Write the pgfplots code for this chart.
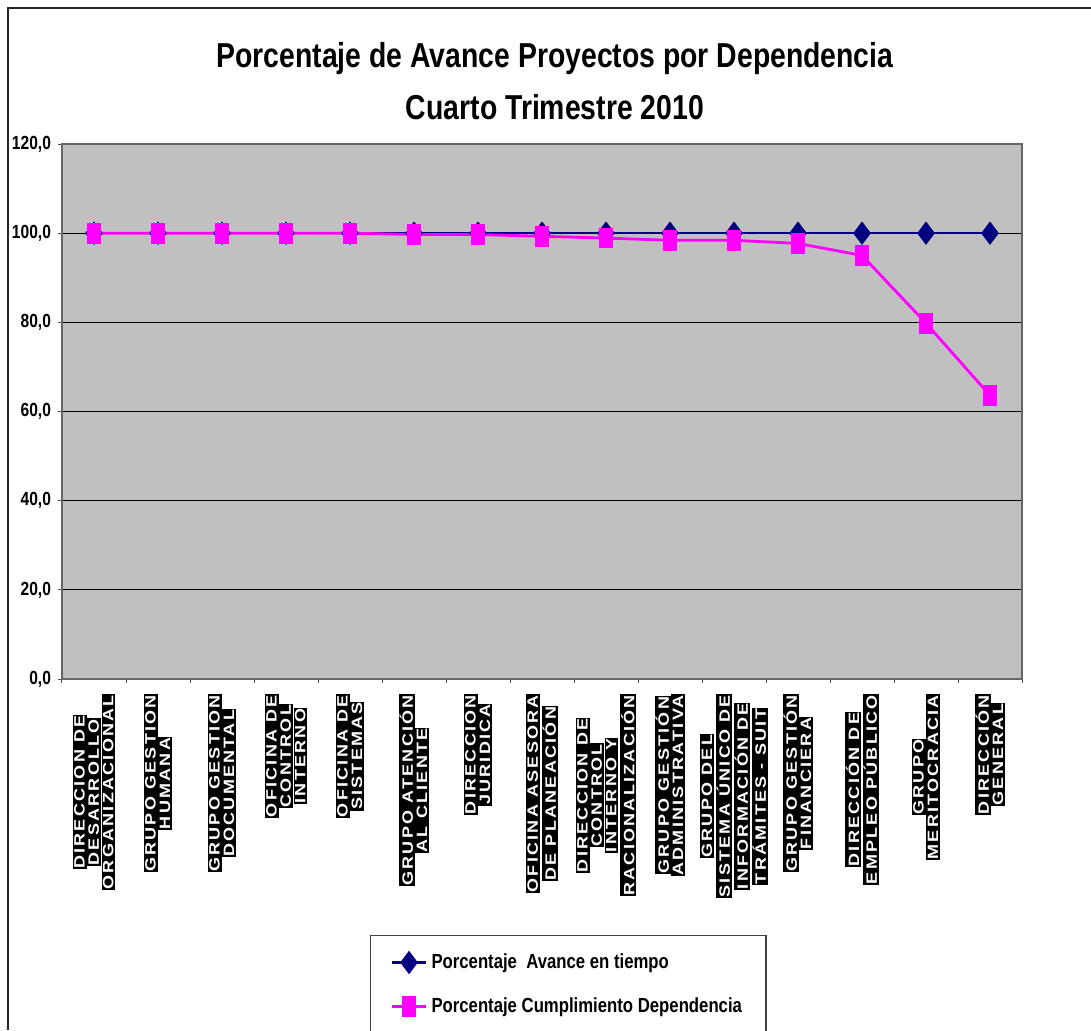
\documentclass[border=0pt]{standalone}
\usepackage{pgfplots}
\pgfplotsset{compat=1.18}
\usepackage{fontspec}
\setmainfont{Liberation Sans}
\newfontfamily\narrowfont{Liberation Sans}[FakeStretch=0.82]
\newfontfamily\spacedfont{Liberation Sans}[FakeStretch=1.2, LetterSpace=15]

\definecolor{plotgray}{HTML}{C0C0C0}
\definecolor{navyblue}{HTML}{000080}
\definecolor{pinkish}{HTML}{FF00FF}

% one black box per line of a category label
\setlength\fboxsep{0.3pt}
\newcommand\tl[1]{\colorbox{black}{\rule[-0.7pt]{0pt}{6.3pt}\textcolor{white}{#1}}}

\begin{document}
\begin{tikzpicture}
\useasboundingbox (0,0) rectangle (545.5pt,-515pt);
\draw[line width=0.9pt, black!85] (4pt,-515pt) -- (4pt,-4pt) -- (545.5pt,-4pt);
\node[align=center, font=\narrowfont\bfseries\fontsize{17.3}{26}\selectfont] at (277.5pt,-40.5pt)
  {Porcentaje de Avance Proyectos por Dependencia\\Cuarto Trimestre 2010};

\begin{axis}[
    at={(31pt,-72pt)}, anchor=north west,
    scale only axis,
    width=480pt, height=267.5pt,
    xmin=-0.5, xmax=14.5,
    ymin=0, ymax=120,
    ytick={0,20,...,120},
    xtick={0,...,14},
    minor xtick={-0.5,0.5,...,14.5},
    major x tick style={draw=none},
    xtick pos=bottom, ytick pos=left,
    tick align=outside,
    major tick length=2pt, minor tick length=2pt,
    tick style={black!70, line width=0.5pt},
    axis background/.style={fill=plotgray},
    axis line style={black!60, line width=0.6pt},
    ymajorgrids=true,
    major grid style={black, line width=0.5pt},
    /pgf/number format/assume math mode=true,
    yticklabel style={font=\narrowfont\bfseries\fontsize{9.5}{11}\selectfont,
        /pgf/number format/.cd, fixed, fixed zerofill, precision=1, use comma},
    xticklabel style={rotate=90, anchor=east, align=center, inner sep=0pt,
        font=\spacedfont\bfseries\fontsize{7.5}{7.2}\selectfont},
    xticklabel shift=5.5pt,
    xticklabels={
      {\tl{DIRECCION DE}\\\tl{DESARROLLO}\\\tl{ORGANIZACIONAL}},
      {\tl{GRUPO GESTION}\\\tl{HUMANA}},
      {\tl{GRUPO GESTION}\\\tl{DOCUMENTAL}},
      {\tl{OFICINA DE}\\\tl{CONTROL}\\\tl{INTERNO}},
      {\tl{OFICINA DE}\\\tl{SISTEMAS}},
      {\tl{GRUPO ATENCIÓN}\\\tl{AL CLIENTE}},
      {\tl{DIRECCION}\\\tl{JURIDICA}},
      {\tl{OFICINA ASESORA}\\\tl{DE PLANEACIÓN}},
      {\tl{DIRECCION DE}\\\tl{CONTROL}\\\tl{INTERNO Y}\\\tl{RACIONALIZACIÓN}},
      {\tl{GRUPO GESTIÓN}\\\tl{ADMINISTRATIVA}},
      {\tl{GRUPO DEL}\\\tl{SISTEMA ÚNICO DE}\\\tl{INFORMACIÓN DE}\\\tl{TRÁMITES - SUIT}},
      {\tl{GRUPO GESTIÓN}\\\tl{FINANCIERA}},
      {\tl{DIRECCIÓN DE}\\\tl{EMPLEO PÚBLICO}},
      {\tl{GRUPO}\\\tl{MERITOCRACIA}},
      {\tl{DIRECCIÓN}\\\tl{GENERAL}}
    },
    legend style={at={(0.3208,-0.4785)}, anchor=north west,
        draw=black!75, fill=white, line width=0.6pt,
        font=\narrowfont\bfseries\fontsize{10.2}{12}\selectfont,
        inner xsep=10pt, inner ysep=7pt, row sep=9pt},
    legend cell align=left,
]

\addplot[color=navyblue, line width=1.3pt, mark=diamond*, mark size=4.8pt,
    mark options={solid, fill=navyblue}]
    coordinates {
    (0,100)(1,100)(2,100)(3,100)(4,100)(5,100)(6,100)(7,100)
    (8,100)(9,100)(10,100)(11,100)(12,100)(13,100)(14,100)
    };

\addplot[color=pinkish, line width=1.4pt, mark=square*, mark size=4.5pt,
    mark options={solid, fill=pinkish, xscale=0.67}]
    coordinates {
    (0,100)(1,100)(2,100)(3,100)(4,100)(5,99.7)(6,99.7)(7,99.3)
    (8,98.9)(9,98.4)(10,98.4)(11,97.7)(12,95.0)(13,79.8)(14,63.6)
    };

\legend{Porcentaje\ \ Avance en tiempo, Porcentaje Cumplimiento Dependencia}
\addlegendimage{empty legend}
\addlegendentry{\strut}
\end{axis}
\end{tikzpicture}
\end{document}
